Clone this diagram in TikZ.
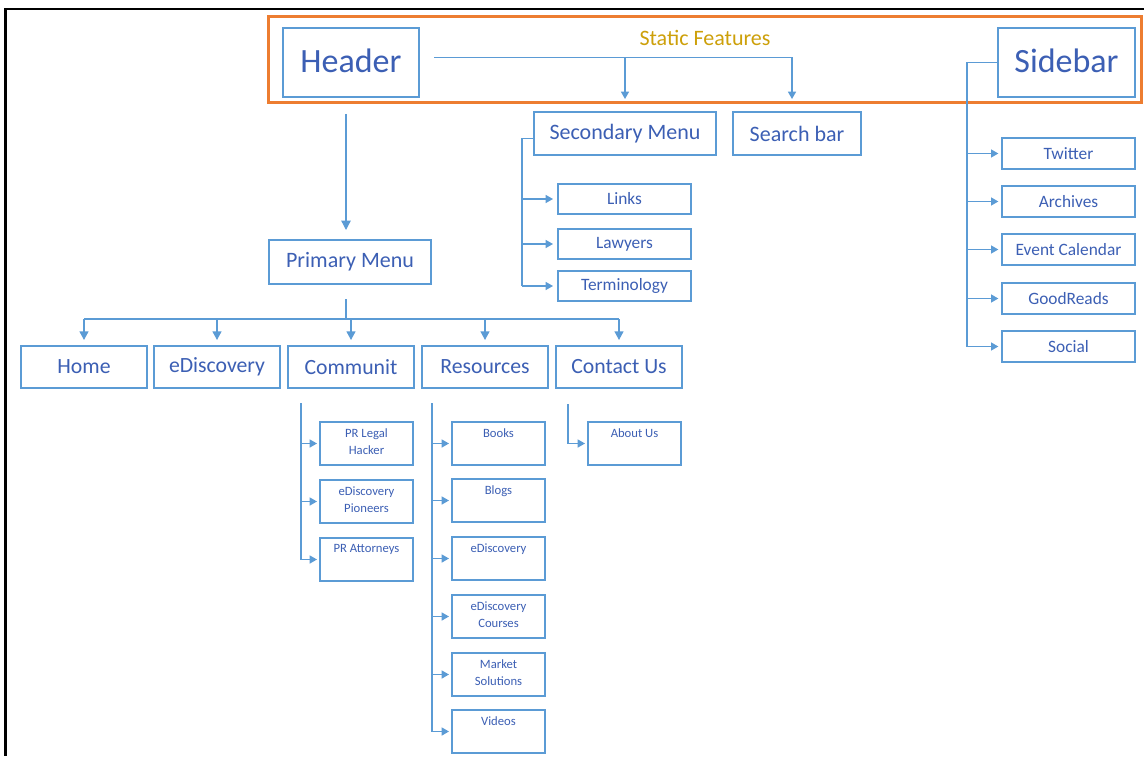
\documentclass[tikz,border=0pt]{standalone}
\usepackage{fontspec}
\setmainfont{Carlito}
\usetikzlibrary{arrows.meta}
\definecolor{boxblue}{RGB}{91,155,213}
\definecolor{txtblue}{RGB}{60,95,180}
\definecolor{orng}{RGB}{237,125,49}
\definecolor{gold}{RGB}{205,160,10}
\newcommand\sbt[1]{\parbox[c][32.25pt][t]{69.75pt}{\centering\vspace*{5pt}#1}}
\begin{document}
\begin{tikzpicture}[x=0.75pt,y=-0.75pt,
  every node/.style={text=txtblue},
  bx/.style={draw=boxblue,line width=1.5pt,inner sep=0pt,anchor=north west,fill=white},
  hdr/.style={bx,minimum width=102pt,minimum height=51.75pt,font=\fontsize{25.5}{30}\selectfont},
  mid/.style={bx,minimum height=32.25pt,font=\fontsize{16.5}{20}\selectfont},
  lvl/.style={bx,minimum width=94.5pt,minimum height=31.5pt,font=\fontsize{16.3}{20}\selectfont},
  leaf/.style={bx,minimum width=99.75pt,minimum height=22.5pt,font=\fontsize{13}{16}\selectfont},
  sm/.style={bx,font=\fontsize{9.5}{12.75}\selectfont},
  ln/.style={draw=boxblue,line width=1pt},
  arr/.style={ln,-{Triangle[width=6pt,length=5.5pt]}},
  mida/.style={ln,-{Triangle[width=6.75pt,length=6.5pt]}},
  big/.style={ln,-{Triangle[width=7pt,length=7pt]}}]

\useasboundingbox (0,0) rectangle (1144,756);
\fill[white] (0,0) rectangle (1144,756);
\draw[line width=1.5pt] (4,9) -- (1144,9);
\draw[line width=2.25pt] (5.5,9) -- (5.5,756);

\draw[orng,line width=2.25pt] (268,17) rectangle (1141,103);

% top level
\node[hdr] (header) at (282,27) {\raisebox{3pt}{Header}};
\node[hdr,minimum width=102.75pt] (sidebar) at (997,27) {\raisebox{3pt}{Sidebar}};
\node[text=gold,font=\fontsize{16.5}{20}\selectfont] (static) at (705,38) {Static Features};
\node[mid,minimum width=136.5pt] (sec) at (533,111) {Secondary Menu};
\node[mid,minimum width=96pt] (search) at (732,111) {Search bar};
\node[mid,minimum width=121.5pt,minimum height=33pt] (pm) at (268,239) {Primary Menu};

% primary menu children
\node[lvl] (home) at (20,345) {Home};
\node[lvl] (edisc) at (153,345) {eDiscovery};
\node[lvl] (comm) at (287,345) {Communit};
\node[lvl] (res) at (421,345) {Resources};
\node[lvl] (contact) at (555,345) {Contact Us};

% sidebar children
\node[leaf,minimum height=23.25pt] (twitter) at (1001,137) {Twitter};
\node[leaf,minimum height=23.25pt] (archives) at (1001,185) {Archives};
\node[leaf,minimum height=23.25pt] (event) at (1001,233) {Event Calendar};
\node[leaf,minimum height=23.25pt] (goodreads) at (1001,282) {GoodReads};
\node[leaf,minimum height=23.25pt] (social) at (1001,330) {Social};

% secondary menu children
\node[leaf] (links) at (557,183) {Links};
\node[leaf] (lawyers) at (557,228) {Lawyers};
\node[leaf] (term) at (557,270) {Terminology};

% community children
\node[sm] (plh) at (319,421) {\sbt{PR Legal\\Hacker}};
\node[sm] (edp) at (319,479) {\sbt{eDiscovery\\Pioneers}};
\node[sm] (pra) at (319,537) {\sbt{PR Attorneys}};

% resources children
\node[sm] (books) at (451,421) {\sbt{Books}};
\node[sm] (blogs) at (451,478) {\sbt{Blogs}};
\node[sm] (ediscr) at (451,536) {\sbt{eDiscovery}};
\node[sm] (edc) at (451,594) {\sbt{eDiscovery\\Courses}};
\node[sm] (market) at (451,652) {\sbt{Market\\Solutions}};
\node[sm] (videos) at (451,709) {\sbt{Videos}};

% contact child
\node[sm] (about) at (587,421) {\sbt{About Us}};

% header connectors
\coordinate (hs) at ([xshift=10.5pt,yshift=3.5pt]header.east);
\draw[arr] (hs) -| ([xshift=-3.75pt,yshift=9pt]search.north);
\draw[arr] (hs -| sec.north) -- ([yshift=9pt]sec.north);
\draw[big] ([xshift=-3.75pt,yshift=-12pt]header.south) -- ([xshift=-3pt,yshift=6.75pt]pm.north);

% primary menu connectors
\coordinate (pmj) at ([xshift=-3pt,yshift=-25.5pt]pm.south);
\draw[ln] ([xshift=-3pt,yshift=-10.5pt]pm.south) -- (pmj);
\draw[ln] (pmj -| home.north) -- (pmj -| contact.north);
\foreach \n in {home,edisc,comm,res,contact}
  \draw[mida] (pmj -| \n.north) -- ([yshift=3.75pt]\n.north);

% sidebar connectors
\coordinate (sbj) at ([xshift=-22.5pt]sidebar.west);
\draw[ln] (sidebar.west) -- (sbj) -- (sbj |- social.west);
\foreach \n in {twitter,archives,event,goodreads,social}
  \draw[arr] (sbj |- \n.west) -- ([xshift=-2pt]\n.west);

% secondary menu connectors
\coordinate (secj) at ([xshift=-8.25pt,yshift=-4pt]sec.west);
\draw[ln] ([yshift=-4pt]sec.west) -- (secj) -- (secj |- term.west);
\foreach \n in {links,lawyers,term}
  \draw[arr] (secj |- \n.west) -- ([xshift=-3pt]\n.west);

% community connectors
\coordinate (cj) at ([xshift=-37.5pt,yshift=-10.5pt]comm.south);
\draw[ln] (cj) -- (cj |- pra.west);
\foreach \n in {plh,edp,pra}
  \draw[arr] (cj |- \n.west) -- ([xshift=-1.5pt]\n.west);

% resources connectors
\coordinate (rj) at ([xshift=-39.75pt,yshift=-10.5pt]res.south);
\draw[ln] (rj) -- (rj |- videos.west);
\foreach \n in {books,blogs,ediscr,edc,market,videos}
  \draw[arr] (rj |- \n.west) -- ([xshift=-1.5pt]\n.west);

% contact connector
\coordinate (ctj) at ([xshift=-38.25pt,yshift=-11.25pt]contact.south);
\draw[arr] (ctj) |- ([xshift=-1.5pt]about.west);
\end{tikzpicture}
\end{document}
